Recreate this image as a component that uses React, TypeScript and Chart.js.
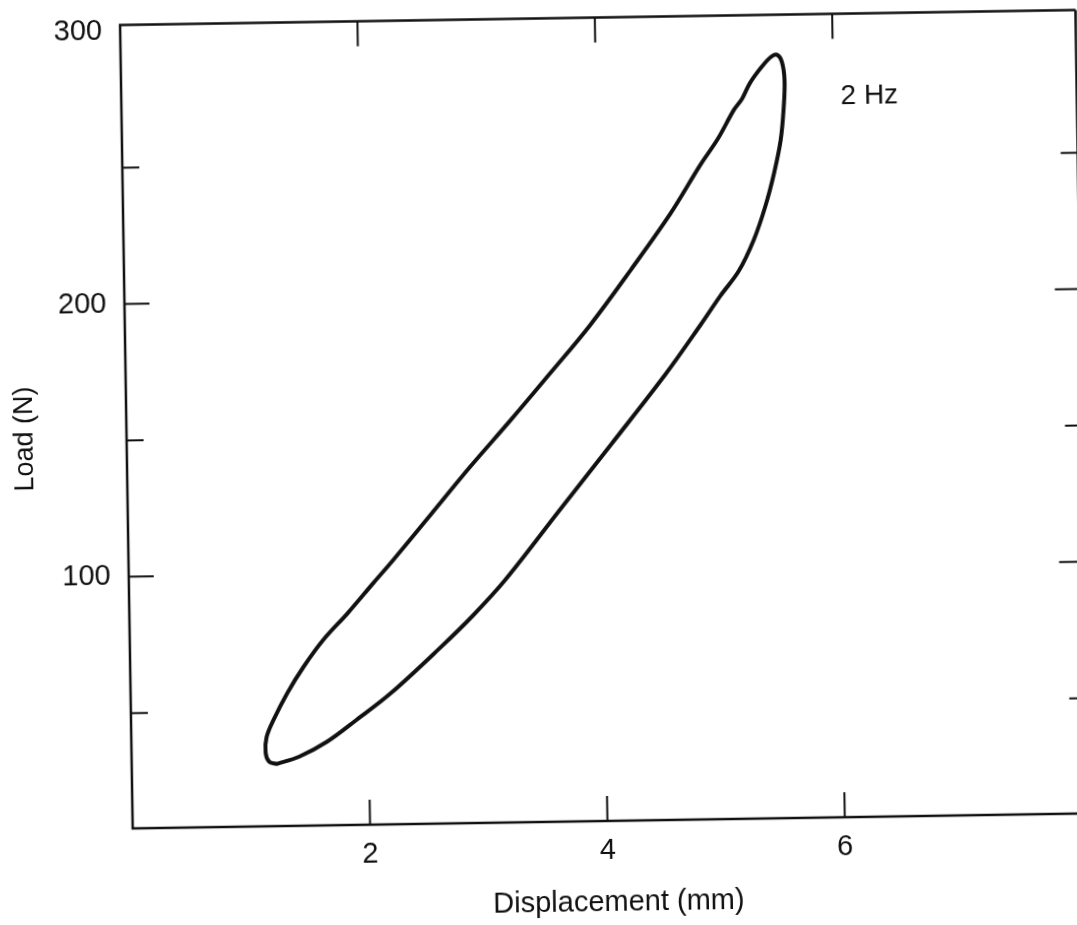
import React, { useEffect, useRef } from 'react';
import { Chart, registerables } from 'chart.js';

Chart.register(...registerables);

// Loading branch (lower curve), from the bottom of the loop up to the peak
const loadingDisp = [1.22, 1.41, 1.65, 1.90, 2.19, 2.61, 2.89, 3.17, 3.64, 4.09, 4.55, 4.85, 5.02, 5.18, 5.31, 5.41, 5.49, 5.55, 5.58, 5.59, 5.57, 5.53];
const loadingLoad = [30.5, 33.0, 38.4, 46.2, 55.7, 72.0, 83.6, 96.6, 122.0, 146.2, 171.2, 189.0, 199.5, 208.6, 219.9, 231.9, 244.3, 256.4, 268.5, 278.4, 285.0, 287.6];
// Unloading branch (upper curve), from the peak back down to the bottom
const unloadingDisp = [5.48, 5.40, 5.30, 5.23, 5.16, 5.02, 4.87, 4.61, 4.27, 3.92, 3.58, 3.24, 2.89, 2.55, 2.23, 2.06, 1.84, 1.63, 1.46, 1.32, 1.20, 1.14, 1.13, 1.16];
const unloadingLoad = [286.9, 283.3, 277.5, 271.7, 267.7, 257.1, 247.7, 229.9, 209.6, 189.6, 172.3, 155.3, 138.3, 120.9, 104.6, 96.3, 85.4, 75.7, 65.9, 56.4, 46.6, 40.4, 34.6, 31.3];

const xTicks = [2, 4, 6];
const yMajorTicks = [100, 200, 300];
const yMinorTicks = [50, 150, 250];

const xTitle = 'Displacement (mm)';
const yTitle = 'Load (N)';
const annotationText = '2 Hz';
const annotationDisp = 6.06;
const annotationLoad = 269;

const FONT = '"Liberation Sans", Arial, Helvetica, sans-serif';
const INK = '#111';

const frameTicks = {
  id: 'frameTicks',
  afterDatasetsDraw(chart: any) {
    const { ctx, chartArea, scales } = chart;
    const { left, right, top, bottom } = chartArea;
    const xs = scales.x;
    const ys = scales.y;
    ctx.save();
    ctx.strokeStyle = INK;
    ctx.lineCap = 'butt';
    ctx.lineWidth = 2.5;
    ctx.beginPath();
    ctx.moveTo(right, top);
    ctx.lineTo(left, top);
    ctx.lineTo(left, bottom);
    ctx.lineTo(right, bottom);
    ctx.lineTo(right, top);
    ctx.stroke();

    ctx.lineWidth = 2;
    const major = 25;
    const minor = 17;
    xTicks.forEach((v) => {
      const px = xs.getPixelForValue(v);
      ctx.beginPath();
      ctx.moveTo(px, bottom);
      ctx.lineTo(px, bottom - major);
      ctx.moveTo(px, top);
      ctx.lineTo(px, top + major);
      ctx.stroke();
    });
    // the 300 N tick coincides with the top frame line
    const yt = [...yMajorTicks.filter((v) => v < 300).map((v) => [v, major]), ...yMinorTicks.map((v) => [v, minor])];
    yt.forEach(([v, len]) => {
      const py = ys.getPixelForValue(v);
      ctx.beginPath();
      ctx.moveTo(left, py);
      ctx.lineTo(left + len, py);
      ctx.moveTo(right, py);
      ctx.lineTo(right - len, py);
      ctx.stroke();
    });

    ctx.fillStyle = INK;
    ctx.font = `28px ${FONT}`;
    ctx.textAlign = 'left';
    ctx.textBaseline = 'alphabetic';
    ctx.fillText(annotationText, xs.getPixelForValue(annotationDisp), ys.getPixelForValue(annotationLoad));

    // axis titles
    ctx.textAlign = 'center';
    ctx.textBaseline = 'middle';
    ctx.font = `29px ${FONT}`;
    ctx.fillText(xTitle, 612, 904);
    ctx.save();
    ctx.translate(26, 431);
    ctx.rotate(-Math.PI / 2);
    ctx.font = `27px ${FONT}`;
    ctx.fillText(yTitle, 0, 0);
    ctx.restore();
    ctx.restore();
  },
};

export default function App() {
  const canvasRef = useRef<HTMLCanvasElement | null>(null);

  useEffect(() => {
    const canvas = canvasRef.current;
    if (!canvas) return;
    const points = [
      ...loadingDisp.map((x, i) => ({ x, y: loadingLoad[i] })),
      ...unloadingDisp.map((x, i) => ({ x, y: unloadingLoad[i] })),
      { x: loadingDisp[0], y: loadingLoad[0] },
    ];
    const chart = new Chart(canvas, {
      type: 'line',
      data: {
        datasets: [
          {
            label: '2 Hz',
            data: points,
            borderColor: INK,
            borderWidth: 4,
            pointRadius: 0,
            tension: 0.35,
            fill: false,
            borderJoinStyle: 'round',
            borderCapStyle: 'round',
          } as any,
        ],
      },
      options: {
        animation: false,
        responsive: false,
        maintainAspectRatio: false,
        events: [],
        layout: { padding: { top: 18.5, right: 7.5, left: 0, bottom: 0 } },
        plugins: { legend: { display: false }, tooltip: { enabled: false } },
        scales: {
          x: {
            type: 'linear',
            min: 0,
            max: 8.05,
            grid: { display: false, drawTicks: false },
            border: { display: false },
            afterBuildTicks: (s: any) => {
              s.ticks = xTicks.map((v) => ({ value: v }));
            },
            afterFit: (s: any) => {
              s.height = 103;
              s.paddingLeft = 0;
              s.paddingRight = 0;
            },
            ticks: {
              color: INK,
              font: { family: FONT, size: 29 },
              padding: 13,
              maxRotation: 0,
              autoSkip: false,
              callback: (v: any) => String(v),
            },
          },
          y: {
            type: 'linear',
            min: 7.7,
            max: 302.3,
            grid: { display: false, drawTicks: false },
            border: { display: false },
            afterBuildTicks: (s: any) => {
              s.ticks = [...yMinorTicks, ...yMajorTicks].sort((a, b) => a - b).map((v) => ({ value: v }));
            },
            afterFit: (s: any) => {
              s.width = 127;
              s.paddingTop = 0;
              s.paddingBottom = 0;
            },
            ticks: {
              color: INK,
              font: { family: FONT, size: 29 },
              padding: 18,
              autoSkip: false,
              callback: (v: any) => (yMajorTicks.includes(v) ? String(v) : ''),
            },
          },
        },
      },
      plugins: [frameTicks],
    });
    return () => chart.destroy();
  }, []);

  return (
    <div
      style={{
        position: 'absolute',
        left: 0,
        top: 0,
        width: 1077,
        height: 925,
        overflow: 'hidden',
        background: '#fff',
      }}
    >
      <canvas
        ref={canvasRef}
        width={1090}
        height={925}
        style={{
          position: 'absolute',
          left: 0,
          top: 0,
          width: 1090,
          height: 925,
          transform: 'rotate(-0.9deg)',
          transformOrigin: '538.5px 462.5px',
        }}
      />
    </div>
  );
}
